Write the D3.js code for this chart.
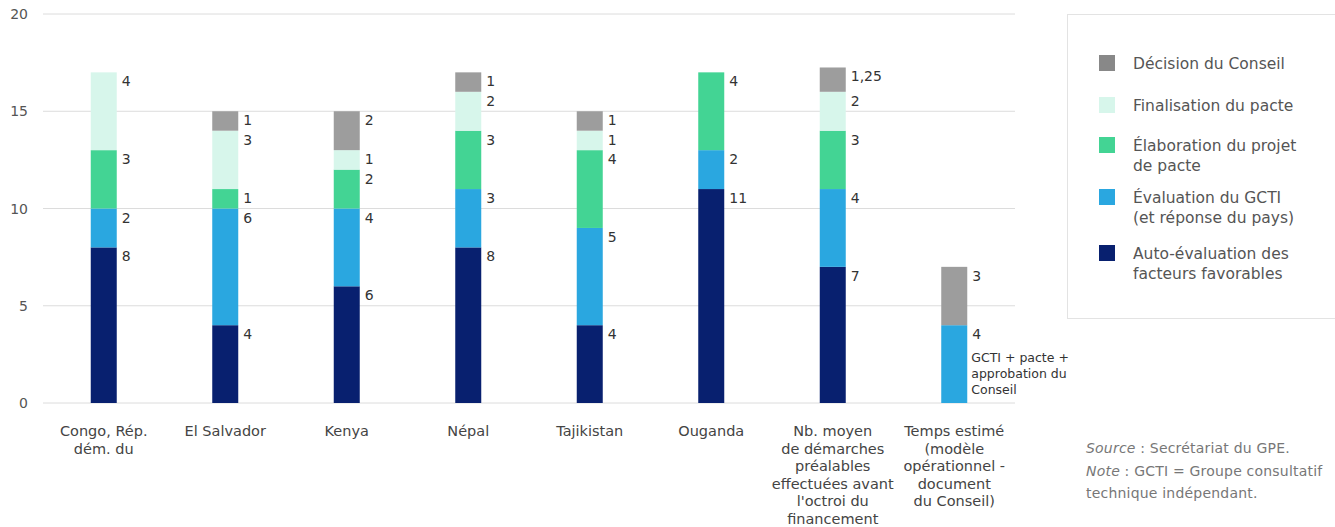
<!DOCTYPE html>
<html><head><meta charset="utf-8">
<script src="https://cdn.jsdelivr.net/npm/d3@7"></script>
<style>
body{margin:0;background:#fff;}
text{font-family:"DejaVu Sans",sans-serif;}
</style></head>
<body><svg id="c" width="1335" height="527"></svg>
<script>
const categories = [
  ["Congo, Rép.","dém. du"],
  ["El Salvador"],
  ["Kenya"],
  ["Népal"],
  ["Tajikistan"],
  ["Ouganda"],
  ["Nb. moyen","de démarches","préalables","effectuées avant","l'octroi du","financement"],
  ["Temps estimé","(modèle","opérationnel -","document","du Conseil)"]
];
const seriesNames = ["Auto-évaluation des facteurs favorables","Évaluation du GCTI (et réponse du pays)","Élaboration du projet de pacte","Finalisation du pacte","Décision du Conseil"];
const autoEval    = [8, 4, 6, 8, 4, 11, 7, 0];
const gctiEval    = [2, 6, 4, 3, 5, 2, 4, 4];
const elaboration = [3, 1, 2, 3, 4, 4, 3, 0];
const finalisation= [4, 3, 1, 2, 1, 0, 2, 0];
const decision    = [0, 1, 2, 1, 1, 0, 1.25, 3];
const yTicks = [0, 5, 10, 15, 20];
const colors = ["#08206f", "#2aa7e0", "#43d494", "#d7f6eb", "#9d9d9d"];
const legendLines = [
  ["Décision du Conseil"],
  ["Finalisation du pacte"],
  ["Élaboration du projet","de pacte"],
  ["Évaluation du GCTI","(et réponse du pays)"],
  ["Auto-évaluation des","facteurs favorables"]
];
const legendColors = ["#888888", "#d7f6eb", "#43d494", "#2aa7e0", "#08206f"];
const annotation = ["GCTI + pacte +","approbation du","Conseil"];

const svg = d3.select("#c");
const x = d3.scaleBand().domain(d3.range(categories.length)).range([43, 1015]);
const y = d3.scaleLinear().domain([0, 20]).range([403, 14]);
const barW = 26;

// grid
svg.append("g").selectAll("line").data(yTicks).join("line")
  .attr("x1", 43).attr("x2", 1015)
  .attr("y1", d => y(d)).attr("y2", d => y(d))
  .attr("stroke", "#dcdcdc").attr("stroke-width", 1);
svg.append("g").selectAll("text").data(yTicks).join("text")
  .attr("x", 28).attr("y", d => y(d) + 5).attr("text-anchor", "end")
  .attr("font-size", 14).attr("fill", "#555").text(d => d);

const table = categories.map((c, i) => ({i, v: [autoEval[i], gctiEval[i], elaboration[i], finalisation[i], decision[i]]}));
const stack = d3.stack().keys([0,1,2,3,4]).value((d, k) => d.v[k])(table);
const fmt = v => String(v).replace(".", ",");

stack.forEach((layer, k) => {
  const g = svg.append("g");
  layer.forEach((s, i) => {
    const val = s.data.v[k];
    if (val <= 0) return;
    const cx = x(i) + x.bandwidth() / 2;
    g.append("rect").attr("x", cx - barW/2).attr("width", barW)
      .attr("y", y(s[1])).attr("height", y(s[0]) - y(s[1]))
      .attr("fill", colors[k]);
    g.append("text").attr("x", cx + barW/2 + 5).attr("y", y(s[1]) + 14)
      .attr("font-size", 14).attr("fill", "#333").text(fmt(val));
  });
});

// annotation for last bar
{
  const i = categories.length - 1;
  const cx = x(i) + x.bandwidth()/2;
  const top = y(autoEval[i] + gctiEval[i]);
  svg.append("text").attr("font-size", 12.5).attr("fill", "#333")
    .selectAll("tspan").data(annotation).join("tspan")
    .attr("x", cx + barW/2 + 4).attr("y", (d, j) => top + 37 + j*16).text(d => d);
}

// category labels
categories.forEach((lines, i) => {
  const cx = x(i) + x.bandwidth()/2;
  svg.append("text").attr("text-anchor", "middle").attr("font-size", 14.5).attr("fill", "#444")
    .selectAll("tspan").data(lines).join("tspan")
    .attr("x", cx).attr("y", (d, j) => 436 + j*17.6).text(d => d);
});

// legend
svg.append("rect").attr("x", 1067.5).attr("y", 14.5).attr("width", 280).attr("height", 304)
  .attr("fill", "none").attr("stroke", "#e3e3e3");
const legY = [63, 105, 145, 197, 253];
legendLines.forEach((lines, k) => {
  svg.append("rect").attr("x", 1099).attr("y", legY[k] - 8).attr("width", 16).attr("height", 16).attr("fill", legendColors[k]);
  svg.append("text").attr("font-size", 15.5).attr("fill", "#555")
    .selectAll("tspan").data(lines).join("tspan")
    .attr("x", 1133).attr("y", (d, j) => legY[k] + 5.5 + j*20).text(d => d);
});

// source / note
const src = svg.append("text").attr("font-size", 14).attr("fill", "#777").attr("letter-spacing", 0.2);
src.append("tspan").attr("x", 1086).attr("y", 453).attr("font-style", "italic").text("Source");
src.append("tspan").text(" : Secrétariat du GPE.");
const note = svg.append("text").attr("font-size", 14).attr("fill", "#777").attr("letter-spacing", 0.2);
note.append("tspan").attr("x", 1086).attr("y", 476).attr("font-style", "italic").text("Note");
note.append("tspan").text(" : GCTI = Groupe consultatif");
note.append("tspan").attr("x", 1086).attr("y", 498).text("technique indépendant.");
</script></body></html>
